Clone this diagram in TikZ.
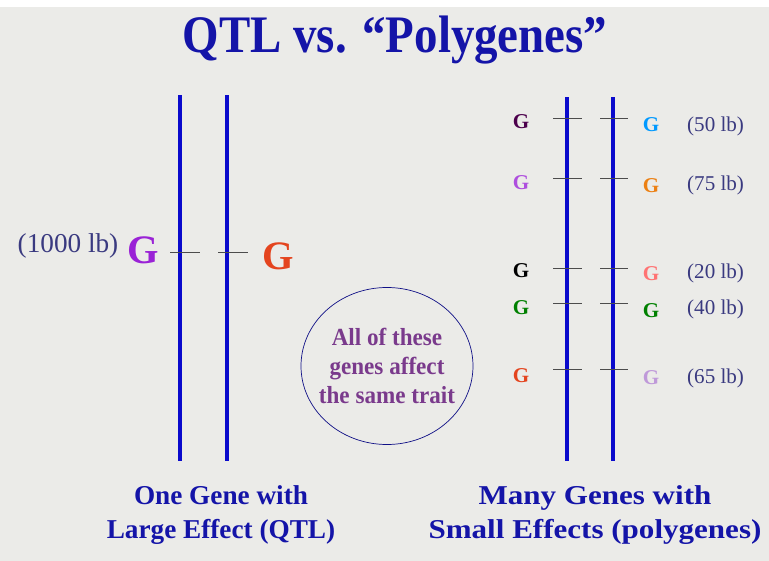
\documentclass[tikz,border=0pt]{standalone}
\usepackage{fontspec}
\setmainfont{Liberation Serif}
\usepackage{xcolor}
\usepackage{tikz}
\usetikzlibrary{shapes.geometric, positioning}

\definecolor{slidebg}{HTML}{EBEBE8}
\definecolor{titleblue}{HTML}{1414A8}
\definecolor{chromblue}{HTML}{0A0ACC}
\definecolor{lbnavy}{HTML}{3A3A80}
\definecolor{circtext}{HTML}{7A3A8C}
\definecolor{bigpurple}{HTML}{9A22D6}
\definecolor{genered}{HTML}{E4441E}

\tikzset{
  chrom/.style={chromblue, line width=2.4pt},
  tick/.style={black!70, line width=0.5pt},
  gene/.style={font=\bfseries\fontsize{12}{12}\selectfont},
  weight/.style={text=lbnavy, font=\fontsize{12}{12}\selectfont, anchor=west},
  caption/.style={text=titleblue, font=\bfseries\fontsize{15.5}{19}\selectfont, align=center}
}

\begin{document}
\begin{tikzpicture}[x=0.02cm, y=-0.02cm]
        % Background
        \fill[slidebg] (0,0) rectangle (769,561);
        \fill[white] (0,0) rectangle (769,7);
        \useasboundingbox (0,0) rectangle (769,561);

        % Title
        \node[text=titleblue, font=\bfseries\fontsize{30}{30}\selectfont] (title) at (395,40) {\scalebox{0.89}[1]{QTL vs. “Polygenes”}};

        % Left pair: one gene
        \coordinate (la1) at (180,95);  \coordinate (lb1) at (180,461);
        \coordinate (la2) at (227,95);  \coordinate (lb2) at (227,461);
        \draw[chrom] (la1) -- (lb1);
        \draw[chrom] (la2) -- (lb2);
        \draw[tick] (170,252) -- (200,252);
        \draw[tick] (218,252) -- (248,252);
        \node[text=lbnavy, font=\fontsize{15.5}{15.5}\selectfont] (bigw) at (68,246) {(1000 lb)};
        \node[text=bigpurple, font=\bfseries\fontsize{23}{23}\selectfont] (bigG1) at (143,250) {G};
        \node[text=genered, font=\bfseries\fontsize{23}{23}\selectfont] (bigG2) at (278,256) {G};
        \node[caption] (capL) at (221,515) {One Gene with\\Large Effect (QTL)};

        % Ellipse note
        \node[draw=titleblue!80!black, thin, ellipse, minimum width=172*0.02cm, minimum height=157*0.02cm] (note) at (387,366) {};
        \node[text=circtext, font=\bfseries\fontsize{14}{16.5}\selectfont, align=center] (notetxt) at (note.center) {\scalebox{0.94}[1]{All of these}\\\scalebox{0.94}[1]{genes affect}\\\scalebox{0.94}[1]{the same trait}};

        % Right pair: many genes
        \coordinate (ra1) at (567,97);  \coordinate (rb1) at (567,461);
        \coordinate (ra2) at (613,97);  \coordinate (rb2) at (613,461);
        \draw[chrom] (ra1) -- (rb1);
        \draw[chrom] (ra2) -- (rb2);
        \foreach \y in {118,178,268,303,369} {
          \draw[tick] (553,\y) -- (582,\y);
          \draw[tick] (600,\y) -- (628,\y);
        }

        % Genes on the left copy
        \node[gene, text=violet!60!black] (gl1) at (521,122) {G};
        \node[gene, text=bigpurple!80] (gl2) at (521,183) {G};
        \node[gene, text=black] (gl3) at (521,271) {G};
        \node[gene, text=green!50!black] (gl4) at (521,308) {G};
        \node[gene, text=genered] (gl5) at (521,376) {G};

        % Genes on the right copy
        \node[gene, text=blue!40!cyan] (gr1) at (651,125) {G};
        \node[gene, text=orange!70!brown] (gr2) at (651,186) {G};
        \node[gene, text=red!40!pink] (gr3) at (651,274) {G};
        \node[gene, text=green!50!black] (gr4) at (651,311) {G};
        \node[gene, text=blue!25!violet!40] (gr5) at (651,378) {G};

        % Effect sizes
        \node[weight] (w1) at (681,126) {(50 lb)};
        \node[weight] (w2) at (681,185) {(75 lb)};
        \node[weight] (w3) at (681,273) {(20 lb)};
        \node[weight] (w4) at (681,309) {(40 lb)};
        \node[weight] (w5) at (681,378) {(65 lb)};

        \node[caption] (capR) at (595,515) {\scalebox{1.14}[1]{Many Genes with}\\\scalebox{1.14}[1]{Small Effects (polygenes)}};
    \end{tikzpicture}
\end{document}
